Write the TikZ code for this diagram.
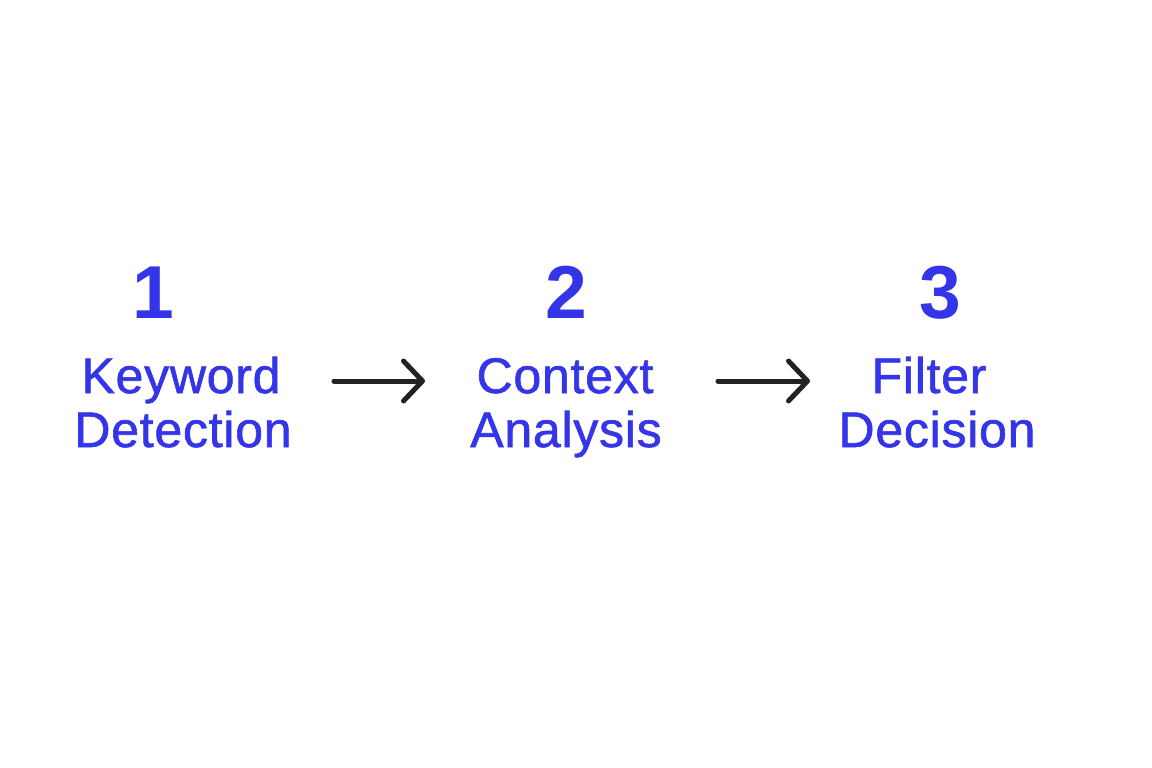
\documentclass[tikz,border=0pt]{standalone}
\usepackage{fontspec}
\setmainfont{Liberation Sans}
\newfontfamily\labfont[FakeBold=1.2, LetterSpace=1.5]{Liberation Sans}
\usetikzlibrary{arrows.meta}
\definecolor{stepblue}{HTML}{3434E8}
\definecolor{arrowdark}{HTML}{222222}
\tikzset{
  num/.style={text=stepblue, font=\fontsize{75}{80}\selectfont\bfseries, anchor=base, inner sep=0pt},
  lab/.style={text=stepblue, font=\fontsize{50}{54}\selectfont\labfont, anchor=base, inner sep=0pt},
  flow/.style={draw=arrowdark, line width=5pt, line cap=round, line join=round,
    -{Straight Barb[length=19pt, width=40pt, line width=5pt, round]}}
}
\begin{document}
\begin{tikzpicture}[x=1pt,y=-1pt]
\useasboundingbox[fill=white] (0,0) rectangle (1152,768);
% numbers
\node[num] (n1) at (153,318) {1};
\node[num] (n2) at (566,318) {2};
\node[num] (n3) at (940,318) {3};
% labels
\node[lab] (k1) at (181,393) {Keyword};
\node[lab] (d1) at (183,447) {Detection};
\node[lab] (k2) at (565,393) {Context};
\node[lab] (d2) at (566,447) {Analysis};
\node[lab] (k3) at (929,393) {Filter};
\node[lab] (d3) at (937,447) {Decision};
% arrows
\coordinate (a1s) at (334,381);
\coordinate (a1e) at (425,381);
\coordinate (a2s) at (718,381);
\coordinate (a2e) at (810,381);
\draw[flow] (a1s) -- (a1e);
\draw[flow] (a2s) -- (a2e);
\end{tikzpicture}
\end{document}
